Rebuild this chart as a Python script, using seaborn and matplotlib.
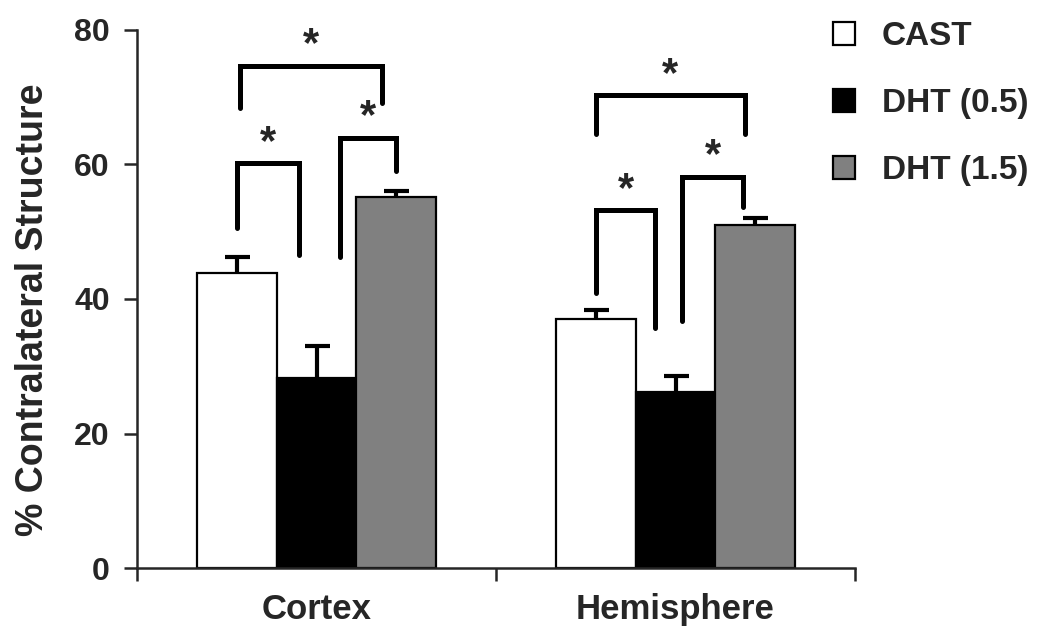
import numpy as np
import pandas as pd
import matplotlib
matplotlib.use('Agg')
import matplotlib.pyplot as plt
from matplotlib.patches import Patch
import seaborn as sns

# Values
regions = ['Cortex', 'Hemisphere']
groups = ['CAST', 'DHT (0.5)', 'DHT (1.5)']
cast = [43.8, 37.1]
dht_low = [28.2, 26.2]
dht_high = [55.1, 51.0]
cast_err = [2.4, 1.2]
dht_low_err = [4.8, 2.3]
dht_high_err = [0.9, 1.0]
colors = ['white', 'black', '#808080']

# Significance brackets: region, bars compared, top and leg ends
br_region = [0, 0, 0, 1, 1, 1]
br_pair = [(0, 1), (1, 2), (0, 2), (0, 1), (1, 2), (0, 2)]
br_top = [60.2, 64.0, 74.7, 53.2, 58.2, 70.3]
br_left = [50.5, 46.2, 68.4, 40.9, 36.7, 64.6]
br_right = [46.5, 59.1, 69.1, 35.7, 53.7, 64.6]
# legs are a bit off the bar centres in the original (hand drawn)
br_dx = [(0, -0.05), (0.066, 0), (0.008, -0.04), (0, -0.056), (0.019, -0.033), (0, -0.028)]

sns.set_style('ticks')
plt.rcParams['font.family'] = ['Liberation Sans', 'DejaVu Sans']
plt.rcParams['font.weight'] = 'bold'

df = pd.DataFrame({
    'region': regions * 3,
    'group': np.repeat(groups, len(regions)),
    'value': cast + dht_low + dht_high,
})
errs = [cast_err, dht_low_err, dht_high_err]

fig = plt.figure(figsize=(10.5, 6.3), dpi=100)
ax = fig.add_axes([0.1305, 0.0984, 0.6838, 0.854])

sns.barplot(data=df, x='region', y='value', hue='group', hue_order=groups,
            palette=colors, saturation=1, edgecolor='black', linewidth=1.6,
            width=0.667, gap=0, legend=False, ax=ax)

# bar centres / heights taken from the drawn bars, upper error bars only
centers = []
bar_conts = list(ax.containers)
for k, cont in enumerate(bar_conts):
    xs = [p.get_x() + p.get_width() / 2 for p in cont]
    hs = [p.get_height() for p in cont]
    centers.append(xs)
    _, caps, _ = ax.errorbar(xs, hs, yerr=[np.zeros(len(hs)), errs[k]], fmt='none',
                             ecolor='black', elinewidth=3, capsize=9, capthick=3,
                             zorder=3)
    for c in caps:
        if np.allclose(c.get_ydata(), hs):
            c.set_visible(False)

for i in range(len(br_top)):
    a, b = br_pair[i]
    r = br_region[i]
    xl = centers[a][r] + br_dx[i][0]
    xr = centers[b][r] + br_dx[i][1]
    ax.plot([xl, xl, xr, xr], [br_left[i], br_top[i], br_top[i], br_right[i]],
            color='black', lw=3.6, solid_joinstyle='miter', solid_capstyle='round',
            zorder=4)
    ax.text((xl + xr) / 2, br_top[i] + 3, '*', ha='center', va='center',
            fontsize=30, fontweight='bold')

ax.set_xlim(-0.5, 1.5)
ax.set_ylim(0, 80)
ax.set_yticks([0, 20, 40, 60, 80])
ax.set_xticks([-0.5, 0.5, 1.5])
ax.set_xticklabels([])
ax.set_xticks([0, 1], minor=True)
ax.set_xticklabels(regions, minor=True)
ax.tick_params(axis='x', which='minor', length=0, pad=18, labelsize=25)
ax.tick_params(axis='x', which='major', length=9.5, width=1.8, direction='out')
ax.tick_params(axis='y', length=9.5, width=1.8, pad=10, labelsize=23)
ax.set_xlabel('')
ax.set_ylabel('% Contralateral Structure', fontsize=27, fontweight='bold')
ax.yaxis.set_label_coords(-0.12, 0.48)
sns.despine(ax=ax)
for s in ['left', 'bottom']:
    ax.spines[s].set_linewidth(1.8)

handles = [Patch(facecolor=c, edgecolor='black', linewidth=1.6) for c in colors]
fig.legend(handles, groups, loc='upper left', bbox_to_anchor=(0.793, 0.966),
           frameon=False, fontsize=24, handlelength=0.68, handleheight=0.68,
           handletextpad=0.8, labelspacing=1.08, borderaxespad=0, borderpad=0)

fig.savefig('out.png', dpi=100)
